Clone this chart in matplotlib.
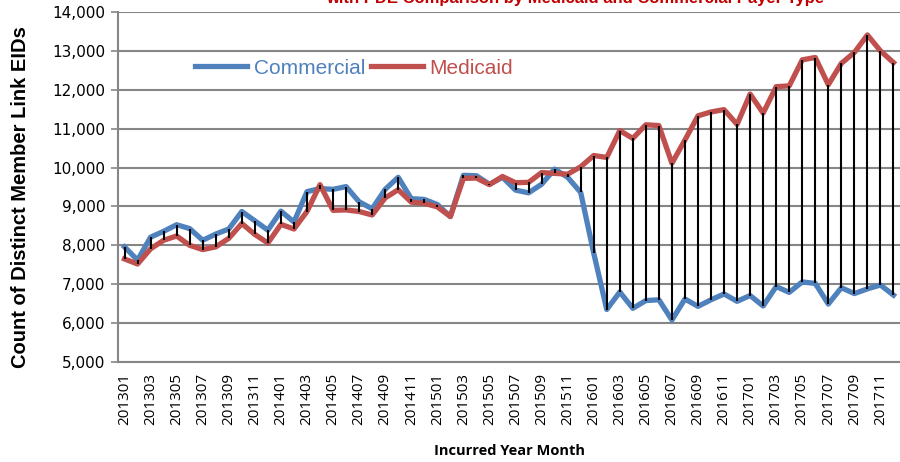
import numpy as np
import matplotlib.pyplot as plt

# months 201301 .. 201712
months = [f"{y}{m:02d}" for y in range(2013, 2018) for m in range(1, 13)]

commercial = [7960, 7620, 8210, 8360, 8530, 8430, 8130, 8290, 8420, 8870,
              8630, 8390, 8880, 8600, 9380, 9460, 9440, 9510, 9120, 8940,
              9440, 9750, 9200, 9180, 9050, 8740, 9800, 9790, 9570, 9750,
              9420, 9350, 9570, 9960, 9750, 9360, 7800, 6350, 6800, 6380,
              6580, 6600, 6080, 6620, 6430, 6600, 6750, 6560, 6710, 6440,
              6940, 6790, 7060, 7020, 6490, 6910, 6760, 6880, 6980, 6720]

medicaid = [7650, 7520, 7910, 8130, 8240, 8000, 7890, 7960, 8180, 8560,
            8280, 8060, 8540, 8420, 8870, 9560, 8900, 8910, 8870, 8780,
            9220, 9430, 9110, 9080, 8990, 8740, 9720, 9730, 9560, 9770,
            9610, 9620, 9870, 9850, 9830, 10020, 10310, 10260, 10950, 10750,
            11100, 11080, 10110, 10710, 11330, 11430, 11490, 11110, 11890, 11400,
            12080, 12100, 12770, 12830, 12130, 12680, 12960, 13410, 13000, 12700]

x = np.arange(len(months))
blue = '#4F81BD'
red = '#C0504D'

fig = plt.figure(figsize=(9, 4.62), dpi=100)
ax = fig.add_axes([118 / 900, 1 - 362 / 462, 1 - 118 / 900, 350 / 462])

ax.plot(x, commercial, color=blue, lw=3.8, solid_joinstyle='round', label='Commercial', zorder=3)
ax.plot(x, medicaid, color=red, lw=3.8, solid_joinstyle='round', label='Medicaid', zorder=3)
lo = np.minimum(commercial, medicaid)
hi = np.maximum(commercial, medicaid)
ax.vlines(x, lo, hi, color='black', lw=1.5, zorder=4)

ax.set_xlim(-0.5, len(months) - 0.5)
ax.set_ylim(5000, 14000)
ax.set_yticks(np.arange(5000, 14001, 1000))
ax.set_yticklabels([f"{v:,}" for v in range(5000, 14001, 1000)],
                   family=['Liberation Sans Narrow', 'DejaVu Sans'], fontsize=11)
ax.set_xticks(x[::2])
ax.set_xticklabels(months[::2], rotation=90, family='Open Sans', fontsize=11)
ax.tick_params(axis='x', length=0, pad=8)
ax.tick_params(axis='y', length=5, color='#868686', width=1.2, pad=4)
ax.grid(axis='y', color='#868686', lw=1.5, zorder=0)
for s in ['top', 'right']:
    ax.spines[s].set_visible(False)
for s in ['left', 'bottom']:
    ax.spines[s].set_color('#868686')
    ax.spines[s].set_linewidth(1.5)

ax.set_ylabel('Count of Distinct Member Link EIDs', fontsize=14.5, fontweight='bold',
              family='Liberation Sans')
ax.yaxis.set_label_coords(-0.113, 0.47)
ax.set_xlabel('Incurred Year Month', fontsize=10.5, fontweight='bold', family='Open Sans')
ax.xaxis.set_label_coords(0.5, -0.235)

leg = ax.legend(loc='upper left', bbox_to_anchor=(0.075, 0.92), ncol=2, frameon=False,
                handlelength=2.5, columnspacing=0.3, handletextpad=0.3,
                prop={'family': 'Liberation Sans', 'size': 15}, labelcolor='linecolor')

fig.text(575 / 900, 1 - 3 / 462, 'with PDE Comparison by Medicaid and Commercial Payer Type',
         color='#C00000', fontsize=12, fontweight='bold', ha='center', va='baseline',
         family='Liberation Sans')

fig.savefig('out.png', dpi=100)
